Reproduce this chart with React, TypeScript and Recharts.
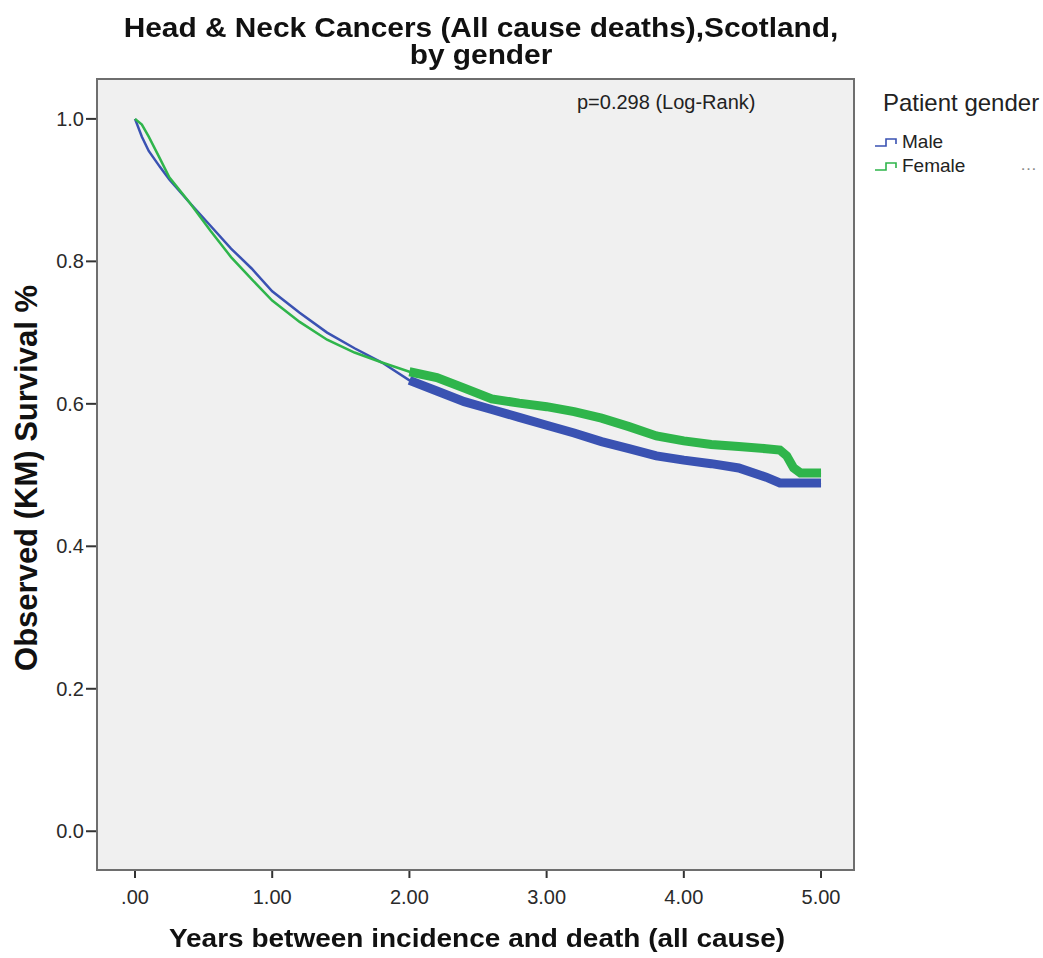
import React from "react";
import { LineChart, Line, XAxis, YAxis, CartesianGrid } from "recharts";

// years since incidence
const years = [
  0, 0.05, 0.1, 0.18, 0.25, 0.4, 0.55, 0.7, 0.85, 1.0, 1.2, 1.4, 1.6, 1.8, 2.0,
  2.2, 2.4, 2.6, 2.8, 3.0, 3.2, 3.4, 3.6, 3.8, 4.0, 4.2, 4.4, 4.6, 4.7, 4.75,
  4.8, 4.85, 5.0,
];
const male = [
  1.0, 0.975, 0.955, 0.933, 0.915, 0.882, 0.85, 0.818, 0.79, 0.758, 0.728,
  0.7, 0.678, 0.658, 0.633, 0.618, 0.603, 0.592, 0.581, 0.57, 0.559, 0.547,
  0.537, 0.527, 0.521, 0.516, 0.51, 0.497, 0.489, 0.489, 0.489, 0.489, 0.489,
];
const female = [
  1.0, 0.992, 0.975, 0.945, 0.918, 0.882, 0.843, 0.806, 0.775, 0.745, 0.715,
  0.69, 0.672, 0.658, 0.645, 0.637, 0.622, 0.607, 0.601, 0.596, 0.589, 0.58,
  0.568, 0.555, 0.548, 0.543, 0.54, 0.537, 0.535, 0.527, 0.51, 0.503, 0.503,
];
const xTicks = [0, 1, 2, 3, 4, 5];
const yTicks = [0, 0.2, 0.4, 0.6, 0.8, 1.0];

// censored marks are dense after 2 years, drawn as a thick band
const data = years.map((t, i) => ({
  t,
  male: male[i],
  female: female[i],
  maleCens: t >= 2 ? male[i] : null,
  femaleCens: t >= 2 ? female[i] : null,
}));

const MALE = "#3a52b2";
const FEMALE = "#2fb54b";
const FONT = "'Liberation Sans', Arial, sans-serif";

const StepIcon = ({ color }: { color: string }) => (
  <svg width={26} height={14} style={{ marginRight: 2 }}>
    <polyline points="1,11 12,11 12,4 22,4 22,9" fill="none" stroke={color} strokeWidth={1.6} />
  </svg>
);

export default function App() {
  const tickStyle = { fontSize: 20, fill: "#2a2a2a", fontFamily: FONT };
  return (
    <div style={{ position: "fixed", left: 0, top: 0, width: 1043, height: 958, background: "#fff", fontFamily: FONT }}>
      <LineChart
        width={1043}
        height={958}
        data={data}
        margin={{ top: 79, right: 190, bottom: 49, left: 37 }}
      >
        <CartesianGrid fill="#f0f0f0" horizontal={false} vertical={false} />
        <XAxis
          dataKey="t"
          type="number"
          domain={[-0.277, 5.233]}
          ticks={xTicks}
          allowDataOverflow
          height={40}
          tickSize={9}
          tickMargin={12}
          tick={tickStyle}
          tickFormatter={(v: number) => (v === 0 ? ".00" : v.toFixed(2))}
          axisLine={false}
          tickLine={{ stroke: "#333", strokeWidth: 2 }}
        />
        <YAxis
          type="number"
          domain={[-0.053, 1.056]}
          ticks={yTicks}
          allowDataOverflow
          width={60}
          tickSize={11}
          tickMargin={2}
          tick={tickStyle}
          tickFormatter={(v: number) => v.toFixed(1)}
          axisLine={false}
          tickLine={{ stroke: "#333", strokeWidth: 2 }}
        />
        <Line dataKey="male" stroke={MALE} strokeWidth={2.5} dot={false} isAnimationActive={false} />
        <Line dataKey="female" stroke={FEMALE} strokeWidth={2.5} dot={false} isAnimationActive={false} />
        <Line dataKey="maleCens" stroke={MALE} strokeWidth={9} dot={false} isAnimationActive={false} connectNulls={false} />
        <Line dataKey="femaleCens" stroke={FEMALE} strokeWidth={9} dot={false} isAnimationActive={false} connectNulls={false} />
      </LineChart>

      {/* plot frame */}
      <div style={{ position: "absolute", left: 96, top: 78, width: 755, height: 789, border: "2px solid #6e6e6e", pointerEvents: "none" }} />

      <div style={{ position: "absolute", left: 0, width: 962, top: 15, textAlign: "center", fontWeight: "bold", fontSize: 27, lineHeight: "27px", color: "#111", transform: "scaleX(1.105)" }}>
        Head &amp; Neck Cancers (All cause deaths),Scotland,
        <br />
        by gender
      </div>
      <div style={{ position: "absolute", left: 577, top: 91, fontSize: 20, color: "#222" }}>p=0.298 (Log-Rank)</div>

      <div style={{ position: "absolute", left: 27, top: 478, width: 0, height: 0 }}>
        <div style={{ position: "absolute", transform: "translate(-50%, -50%) rotate(-90deg)", whiteSpace: "nowrap", fontWeight: "bold", fontSize: 31, color: "#111" }}>
          Observed (KM) Survival %
        </div>
      </div>
      <div style={{ position: "absolute", left: 0, width: 954, top: 924, textAlign: "center", fontWeight: "bold", fontSize: 25, color: "#111", transform: "scaleX(1.12)", whiteSpace: "nowrap" }}>
        Years between incidence and death (all cause)
      </div>

      {/* legend */}
      <div style={{ position: "absolute", left: 883, top: 89, fontSize: 24, color: "#222" }}>Patient gender</div>
      <div style={{ position: "absolute", left: 874, top: 131, fontSize: 19, color: "#222", display: "flex", alignItems: "center" }}>
        <StepIcon color={MALE} />
        Male
      </div>
      <div style={{ position: "absolute", left: 874, top: 155, fontSize: 19, color: "#222", display: "flex", alignItems: "center" }}>
        <StepIcon color={FEMALE} />
        Female
      </div>
      <div style={{ position: "absolute", left: 1020, top: 155, fontSize: 17, color: "#888" }}>…</div>
    </div>
  );
}
